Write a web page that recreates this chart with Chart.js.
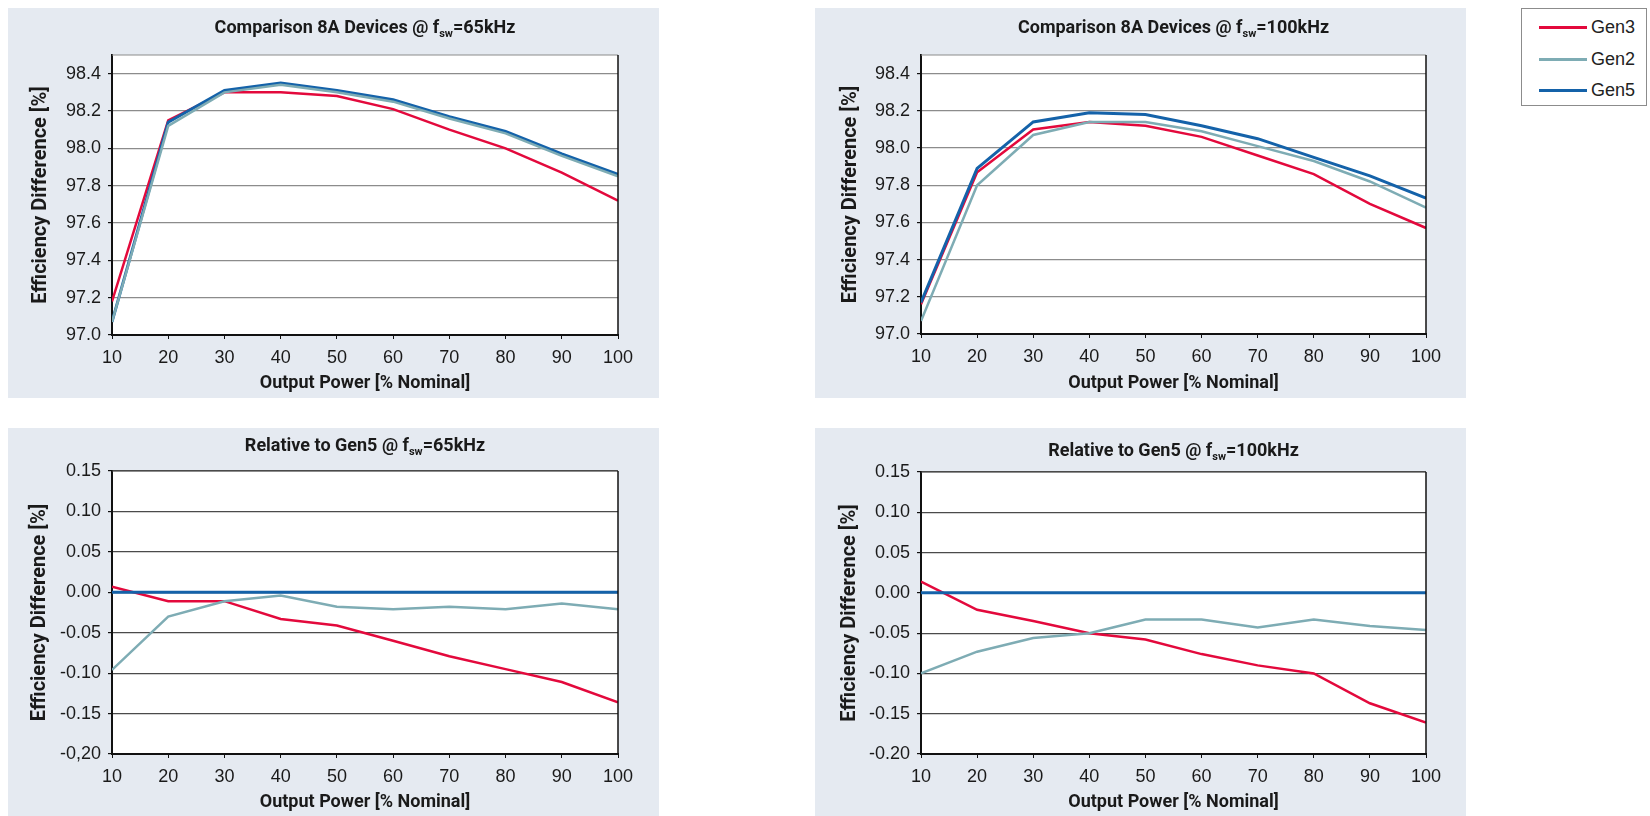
<!DOCTYPE html>
<html>
<head>
<meta charset="utf-8">
<script src="https://cdn.jsdelivr.net/npm/chart.js@4.4.1/dist/chart.umd.min.js"></script>
<style>
  body { margin: 0; width: 1650px; height: 816px; background: #fff; position: relative; overflow: hidden; }
  .panel { position: absolute; background: #e5eaf1; }
  .legend { position: absolute; left: 1521px; top: 8px; width: 124px; height: 96px; border: 1px solid #8c8c8c; background: #fff;
            font-family: "Liberation Sans", Arial, sans-serif; font-size: 18px; color: #222; }
  .legend .row { position: absolute; left: 17px; height: 20px; width: 105px; }
  .legend .swatch { position: absolute; left: 0; top: 9px; width: 48px; height: 3px; }
  .legend .label { position: absolute; left: 52px; top: 0; line-height: 20px; }
</style>
</head>
<body>
<div class="panel" style="left:8px;top:8px;width:651px;height:390px"><canvas id="c1" width="651" height="390"></canvas></div>
<div class="panel" style="left:815px;top:8px;width:651px;height:390px"><canvas id="c2" width="651" height="390"></canvas></div>
<div class="panel" style="left:8px;top:428px;width:651px;height:388px"><canvas id="c3" width="651" height="388"></canvas></div>
<div class="panel" style="left:815px;top:428px;width:651px;height:388px"><canvas id="c4" width="651" height="388"></canvas></div>
<div class="legend" id="legend"></div>

<script>
"use strict";

// Output power in % nominal (x axis)
var outputPower = [10, 20, 30, 40, 50, 60, 70, 80, 90, 100];

var seriesNames = ["Gen3", "Gen2", "Gen5"];
var seriesColors = ["#e3093c", "#7eacb4", "#1462a9"];

// Efficiency @ 65kHz
var gen3At65 = [97.18, 98.15, 98.30, 98.30, 98.28, 98.21, 98.10, 98.00, 97.87, 97.72];
var gen2At65 = [97.07, 98.12, 98.30, 98.34, 98.30, 98.25, 98.16, 98.08, 97.96, 97.85];
var gen5At65 = [97.07, 98.14, 98.31, 98.35, 98.31, 98.26, 98.17, 98.09, 97.97, 97.86];

// Efficiency @ 100kHz
var gen3At100 = [97.16, 97.87, 98.10, 98.14, 98.12, 98.06, 97.96, 97.86, 97.70, 97.57];
var gen2At100 = [97.07, 97.80, 98.07, 98.14, 98.14, 98.09, 98.01, 97.93, 97.82, 97.68];
var gen5At100 = [97.17, 97.89, 98.14, 98.19, 98.18, 98.12, 98.05, 97.95, 97.85, 97.73];

// Relative to Gen5 @ 65kHz
var gen3Rel65 = [0.007, -0.011, -0.011, -0.033, -0.041, -0.060, -0.079, -0.095, -0.111, -0.136];
var gen2Rel65 = [-0.096, -0.030, -0.011, -0.004, -0.018, -0.021, -0.018, -0.021, -0.014, -0.021];
var gen5Rel65 = [0, 0, 0, 0, 0, 0, 0, 0, 0, 0];

// Relative to Gen5 @ 100kHz
var gen3Rel100 = [0.014, -0.021, -0.035, -0.050, -0.058, -0.076, -0.090, -0.100, -0.137, -0.161];
var gen2Rel100 = [-0.100, -0.073, -0.056, -0.050, -0.033, -0.033, -0.043, -0.033, -0.041, -0.046];
var gen5Rel100 = [0, 0, 0, 0, 0, 0, 0, 0, 0, 0];

// Tick labels, bottom to top
var effTicks = ["97.0", "97.2", "97.4", "97.6", "97.8", "98.0", "98.2", "98.4"];
var relTicks65 = ["-0,20", "-0.15", "-0.10", "-0.05", "0.00", "0.05", "0.10", "0.15"];
var relTicks100 = ["-0.20", "-0.15", "-0.10", "-0.05", "0.00", "0.05", "0.10", "0.15"];

var xTitle = "Output Power [% Nominal]";
var yTitle = "Efficiency Difference [%]";

var titleFont = 'Roboto, "DejaVu Sans Condensed", sans-serif';
var tickFont = '"Liberation Sans", Arial, sans-serif';

// Draws white plot area, top/right border and title with subscript
var panelDecor = {
    id: "panelDecor",
    beforeDraw: function(chart) {
        var a = chart.chartArea;
        var ctx = chart.ctx;
        ctx.save();
        ctx.fillStyle = "#fff";
        ctx.fillRect(a.left, a.top, a.right - a.left, a.bottom - a.top);
        ctx.restore();
    },
    afterDraw: function(chart, args, opts) {
        var a = chart.chartArea;
        var ctx = chart.ctx;
        ctx.save();

        // Top border (grey) and right border (black)
        ctx.strokeStyle = opts.gridColor;
        ctx.lineWidth = 1.2;
        ctx.beginPath();
        ctx.moveTo(a.left, a.top);
        ctx.lineTo(a.right, a.top);
        ctx.stroke();

        ctx.strokeStyle = "#111";
        ctx.lineWidth = 1.5;
        ctx.beginPath();
        ctx.moveTo(a.right, a.top);
        ctx.lineTo(a.right, a.bottom);
        ctx.stroke();

        // Title
        var big = "bold 18px " + titleFont;
        var small = "bold 11px " + titleFont;
        ctx.font = big;
        var w1 = ctx.measureText(opts.pre).width;
        var w3 = ctx.measureText(opts.post).width;
        ctx.font = small;
        var w2 = ctx.measureText(opts.sub).width;
        var x = (a.left + a.right) / 2 - (w1 + w2 + w3) / 2;
        var y = opts.y;
        ctx.fillStyle = "#1a1a1a";
        ctx.textBaseline = "alphabetic";
        ctx.textAlign = "left";
        ctx.font = big;
        ctx.fillText(opts.pre, x, y + 6);
        ctx.font = small;
        ctx.fillText(opts.sub, x + w1, y + 10);
        ctx.font = big;
        ctx.fillText(opts.post, x + w1 + w2, y + 6);
        ctx.restore();
    }
};

function toPoints(values) {
    var pts = [];
    for (let i = 0; i < outputPower.length; i++) {
        pts.push({ x: outputPower[i], y: values[i] });
    }
    return pts;
}

function createPanel(elem, g, title, series, yMin, yMax, yStep, yLabels) {

    // Draw order: Gen2, Gen5, Gen3 on top
    var order = [1, 2, 0];
    var datasets = [];
    for (let k = 0; k < order.length; k++) {
        var i = order[k];
        datasets.push({
            label: seriesNames[i],
            data: toPoints(series[i]),
            borderColor: seriesColors[i],
            backgroundColor: seriesColors[i],
            borderWidth: i === 2 ? 3 : 2.5,
            pointRadius: 0,
            tension: 0,
            fill: false
        });
    }

    title.gridColor = g.gridColor;

    var config = {
        type: "line",
        data: { datasets: datasets },
        plugins: [panelDecor],
        options: {
            responsive: false,
            animation: false,
            layout: { padding: { left: 0, right: g.right, top: g.top, bottom: 0 } },
            plugins: {
                legend: { display: false },
                tooltip: { enabled: false },
                panelDecor: title
            },
            scales: {
                x: {
                    type: "linear",
                    min: 10,
                    max: 100,
                    afterFit: function(scale) { scale.height = g.bottom; },
                    ticks: { stepSize: 10, padding: 8, color: "#1a1a1a", font: { family: tickFont, size: 18 } },
                    grid: { drawOnChartArea: false, tickLength: 4, tickColor: "#111" },
                    border: { color: "#111", width: 2 },
                    title: {
                        display: true, text: xTitle, color: "#1a1a1a",
                        font: { family: titleFont, size: 18, weight: "bold" },
                        padding: { top: 0, bottom: g.xTitlePad }
                    }
                },
                y: {
                    type: "linear",
                    min: yMin,
                    max: yMax,
                    afterFit: function(scale) { scale.width = g.left; },
                    ticks: {
                        stepSize: yStep,
                        includeBounds: false,
                        padding: 7,
                        color: "#1a1a1a",
                        font: { family: tickFont, size: 18 },
                        callback: function(value, index) { return yLabels[index]; }
                    },
                    grid: { tickLength: 4, tickColor: "#111", lineWidth: 1.2, color: g.gridColor },
                    border: { color: "#111", width: 2 },
                    title: {
                        display: true, text: yTitle, color: "#1a1a1a",
                        font: { family: titleFont, size: 20, weight: "bold" },
                        padding: { top: g.yTitlePad, bottom: 0 }
                    }
                }
            }
        }
    };

    var ctx = document.getElementById(elem).getContext("2d");
    return new Chart(ctx, config);
}

function buildLegend() {
    var box = document.getElementById("legend");
    var rowTops = [8, 40, 71];
    for (let i = 0; i < seriesNames.length; i++) {
        var row = document.createElement("div");
        row.className = "row";
        row.style.top = rowTops[i] + "px";
        var sw = document.createElement("div");
        sw.className = "swatch";
        sw.style.background = seriesColors[i];
        var lb = document.createElement("div");
        lb.className = "label";
        lb.appendChild(document.createTextNode(seriesNames[i]));
        row.appendChild(sw);
        row.appendChild(lb);
        box.appendChild(row);
    }
}

// Geometry: y-axis width, x-axis height, padding to plot area
var gTopLeft = { left: 104, right: 41, top: 47, bottom: 63, xTitlePad: 4, yTitlePad: 21, gridColor: "#8c8c8c" };
var gTopRight = { left: 106, right: 40, top: 47, bottom: 64, xTitlePad: 4, yTitlePad: 24, gridColor: "#8c8c8c" };
var gBotLeft = { left: 104, right: 41, top: 43, bottom: 62, xTitlePad: 3, yTitlePad: 20, gridColor: "#4a4a4a" };
var gBotRight = { left: 106, right: 40, top: 44, bottom: 62, xTitlePad: 3, yTitlePad: 23, gridColor: "#4a4a4a" };

createPanel("c1", gTopLeft, { pre: "Comparison 8A Devices @ f", sub: "sw", post: "=65kHz", y: 19 },
    [gen3At65, gen2At65, gen5At65], 97.0, 98.5, 0.2, effTicks);
createPanel("c2", gTopRight, { pre: "Comparison 8A Devices @ f", sub: "sw", post: "=100kHz", y: 19 },
    [gen3At100, gen2At100, gen5At100], 97.0, 98.5, 0.2, effTicks);
createPanel("c3", gBotLeft, { pre: "Relative to Gen5 @ f", sub: "sw", post: "=65kHz", y: 17 },
    [gen3Rel65, gen2Rel65, gen5Rel65], -0.2, 0.15, 0.05, relTicks65);
createPanel("c4", gBotRight, { pre: "Relative to Gen5 @ f", sub: "sw", post: "=100kHz", y: 22 },
    [gen3Rel100, gen2Rel100, gen5Rel100], -0.2, 0.15, 0.05, relTicks100);

buildLegend();
</script>
</body>
</html>
